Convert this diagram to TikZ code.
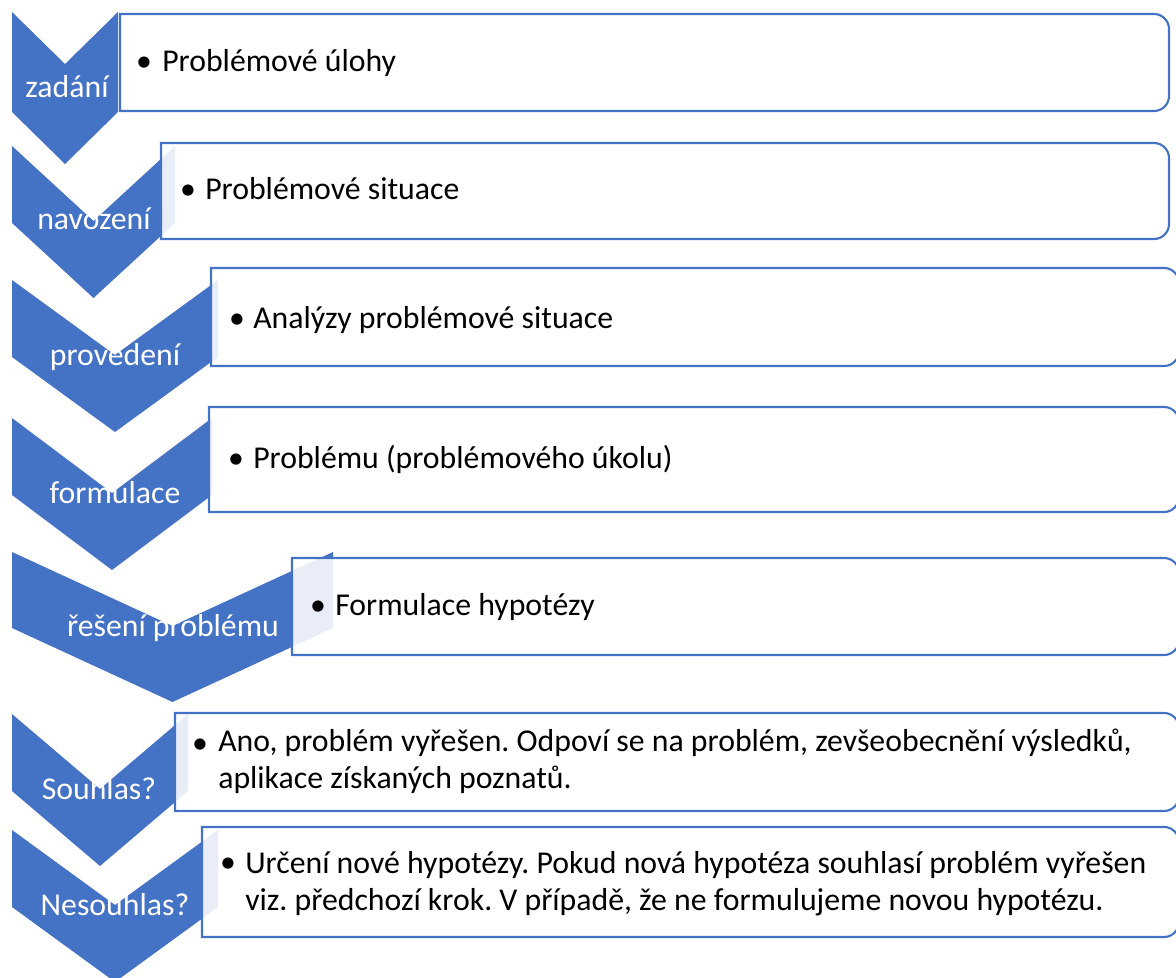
\documentclass[tikz,border=0pt]{standalone}
\usepackage{fontspec}
\setmainfont{Carlito}
\usetikzlibrary{positioning}
\usepackage{xcolor}
\definecolor{ArtBlue}{RGB}{68,114,196}
\frenchspacing

\newcommand{\panel}[4]{% left, top, right, bottom
  \filldraw[panel] (#1,#4) -- (#1,#2) -- (#3-15,#2)
    arc[start angle=-90,end angle=0,radius=15] -- (#3,#4-15)
    arc[start angle=0,end angle=90,radius=15] -- cycle;}

\begin{document}
\begin{tikzpicture}[
x=0.025cm,y=-0.025cm,
chev/.style={fill=ArtBlue},
panel/.style={draw=ArtBlue,line width=1.5pt,fill=white,fill opacity=0.88},
steplabel/.style={text=white,inner sep=0,anchor=base,font=\fontsize{22.6}{27}\selectfont},
dot/.style={inner sep=0,anchor=base,font=\fontsize{22.6}{26}\selectfont},
item/.style={inner sep=0,anchor=base west,align=left,font=\fontsize{22.6}{26}\selectfont}
]
\useasboundingbox (0,0) rectangle (1176,978);

% chevrons
\fill[chev] (12,12) -- (65,64) -- (118,12) -- (118,112) -- (65,164) -- (12,112) -- cycle;
\fill[chev] (12,146) -- (93.5,221) -- (175,146) -- (175,223) -- (93.5,298) -- (12,223) -- cycle;
\fill[chev] (12,280) -- (115,355) -- (218,280) -- (218,357) -- (115,432) -- (12,357) -- cycle;
\fill[chev] (12,418) -- (112,493) -- (212,418) -- (212,495) -- (112,570) -- (12,495) -- cycle;
\fill[chev] (12,552) -- (172.5,626) -- (333,552) -- (333,628) -- (172.5,702) -- (12,628) -- cycle;
\fill[chev] (12,714) -- (100,789) -- (188,714) -- (188,791) -- (100,866) -- (12,791) -- cycle;
\fill[chev] (12,830) -- (115,905) -- (218,830) -- (218,907) -- (115,982) -- (12,907) -- cycle;

\node[steplabel] (zadani) at (67,98) {zadání};
\node[steplabel] (navozeni) at (94,230) {navození};
\node[steplabel] (provedeni) at (115,365) {provedení};
\node[steplabel] (formulace) at (115,503) {formulace};
\node[steplabel] (reseni) at (173,636) {řešení problému};
\node[steplabel] (souhlas) at (99,799) {Souhlas?};
\node[steplabel] (nesouhlas) at (115,915) {Nesouhlas?};

% panels
\panel{120}{14}{1169}{111}
\panel{161}{143}{1169}{239}
\panel{211}{268}{1179}{366}
\panel{209}{407}{1179}{512}
\panel{292}{558}{1179}{655}
\panel{175}{713}{1179}{811}
\panel{202}{827}{1179}{937}

\node[dot] (d1) at (144,72) {•};
\node[item] (t1) at (162,72) {Problémové úlohy};
\node[dot] (d2) at (188,200) {•};
\node[item] (t2) at (205,200) {Problémové situace};
\node[dot] (d3) at (237,328) {•};
\node[item] (t3) at (253,328) {Analýzy problémové situace};
\node[dot] (d4) at (236,468) {•};
\node[item] (t4) at (253,468) {Problému (problémového úkolu)};
\node[dot] (d5) at (318,615) {•};
\node[item] (t5) at (335,615) {Formulace hypotézy};
\node[dot] (d6) at (200,753) {•};
\node[item] (t6) at (218,788) {Ano, problém vyřešen. Odpoví se na problém, zevšeobecnění výsledků,\\aplikace získaných poznatů.};
\node[dot] (d7) at (228,872) {•};
\node[item] (t7) at (245,910) {Určení nové hypotézy. Pokud nová hypotéza souhlasí problém vyřešen\\viz. předchozí krok. V případě, že ne formulujeme novou hypotézu.};
\end{tikzpicture}
\end{document}
